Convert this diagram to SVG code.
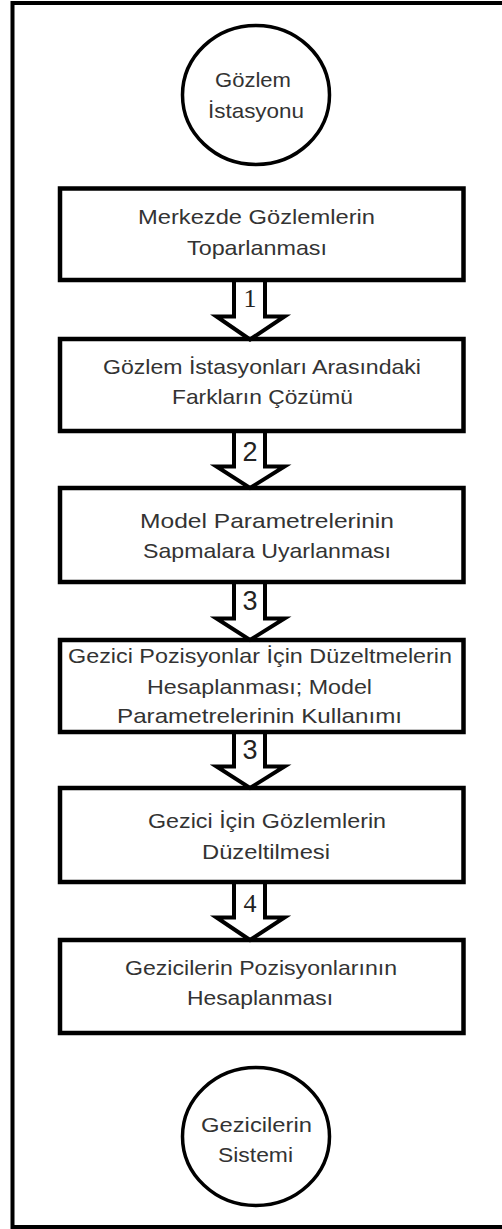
<svg xmlns="http://www.w3.org/2000/svg" width="502" height="1229" viewBox="0 0 502 1229">
<style>
.frame{fill:none;stroke:#000;stroke-width:4}
.box{fill:none;stroke:#000;stroke-width:4.5}
.circ{fill:#fff;stroke:#000;stroke-width:3.5}
.arrow{fill:#fff;stroke:#000;stroke-width:4;stroke-linejoin:miter}
.t{font-family:"Liberation Sans",Arial,sans-serif;font-size:21px;fill:#333;text-anchor:middle}
.ns{font-family:"Liberation Sans",Arial,sans-serif;font-size:27px;fill:#222;text-anchor:middle}
.nr{font-family:"Liberation Serif","Times New Roman",serif;font-size:26px;fill:#222;text-anchor:middle}
</style>
<rect width="502" height="1229" fill="#fff"/>
<g id="frame"><rect class="frame" x="12.5" y="3" width="520" height="1224"/></g>
<g id="connectors">
<path class="arrow" d="M234,280 V316.5 H216.5 L250,339.5 L284.5,316.5 H265 V280"/>
<text class="nr" x="250" y="307">1</text>
<path class="arrow" d="M234,431 V466.5 H216.5 L250,488 L284.5,466.5 H265 V431"/>
<text class="ns" x="250" y="461">2</text>
<path class="arrow" d="M234,582 V618.5 H216.5 L250,640 L284.5,618.5 H265 V582"/>
<text class="ns" x="250" y="610">3</text>
<path class="arrow" d="M234,732 V766.5 H216.5 L250,788 L284.5,766.5 H265 V732"/>
<text class="ns" x="250" y="759">3</text>
<path class="arrow" d="M234,882 V917.5 H216.5 L250,940 L284.5,917.5 H265 V882"/>
<text class="nr" x="250" y="912">4</text>
</g>
<g id="start">
<ellipse class="circ" cx="256" cy="95" rx="73.5" ry="69.5"/>
<text class="t" x="253" y="87" textLength="76" lengthAdjust="spacingAndGlyphs">Gözlem</text>
<text class="t" x="256" y="118" textLength="96" lengthAdjust="spacingAndGlyphs">İstasyonu</text>
</g>
<g id="step1">
<rect class="box" x="60" y="188.5" width="403.5" height="91.5"/>
<text class="t" x="256.5" y="224" textLength="237" lengthAdjust="spacingAndGlyphs">Merkezde Gözlemlerin</text>
<text class="t" x="257" y="255" textLength="140" lengthAdjust="spacingAndGlyphs">Toparlanması</text>
</g>
<g id="step2">
<rect class="box" x="60" y="339" width="403.5" height="92"/>
<text class="t" x="262" y="374" textLength="318" lengthAdjust="spacingAndGlyphs">Gözlem İstasyonları Arasındaki</text>
<text class="t" x="262.5" y="404" textLength="181" lengthAdjust="spacingAndGlyphs">Farkların Çözümü</text>
</g>
<g id="step3">
<rect class="box" x="60" y="488" width="403.5" height="94"/>
<text class="t" x="267" y="528" textLength="254" lengthAdjust="spacingAndGlyphs">Model Parametrelerinin</text>
<text class="t" x="267" y="558" textLength="248" lengthAdjust="spacingAndGlyphs">Sapmalara Uyarlanması</text>
</g>
<g id="step4">
<rect class="box" x="60" y="640" width="403.5" height="92"/>
<text class="t" x="260" y="663" textLength="384" lengthAdjust="spacingAndGlyphs">Gezici Pozisyonlar İçin Düzeltmelerin</text>
<text class="t" x="259.5" y="694" textLength="225" lengthAdjust="spacingAndGlyphs">Hesaplanması; Model</text>
<text class="t" x="259.5" y="723" textLength="285" lengthAdjust="spacingAndGlyphs">Parametrelerinin Kullanımı</text>
</g>
<g id="step5">
<rect class="box" x="60" y="788" width="403.5" height="94"/>
<text class="t" x="267" y="828" textLength="238" lengthAdjust="spacingAndGlyphs">Gezici İçin Gözlemlerin</text>
<text class="t" x="266" y="859" textLength="128" lengthAdjust="spacingAndGlyphs">Düzeltilmesi</text>
</g>
<g id="step6">
<rect class="box" x="60" y="940" width="403.5" height="93"/>
<text class="t" x="261" y="975" textLength="272" lengthAdjust="spacingAndGlyphs">Gezicilerin Pozisyonlarının</text>
<text class="t" x="260" y="1005" textLength="146" lengthAdjust="spacingAndGlyphs">Hesaplanması</text>
</g>
<g id="end">
<ellipse class="circ" cx="256" cy="1136.5" rx="73.5" ry="69"/>
<text class="t" x="256.5" y="1132" textLength="111" lengthAdjust="spacingAndGlyphs">Gezicilerin</text>
<text class="t" x="255.5" y="1162" textLength="75" lengthAdjust="spacingAndGlyphs">Sistemi</text>
</g>
</svg>
